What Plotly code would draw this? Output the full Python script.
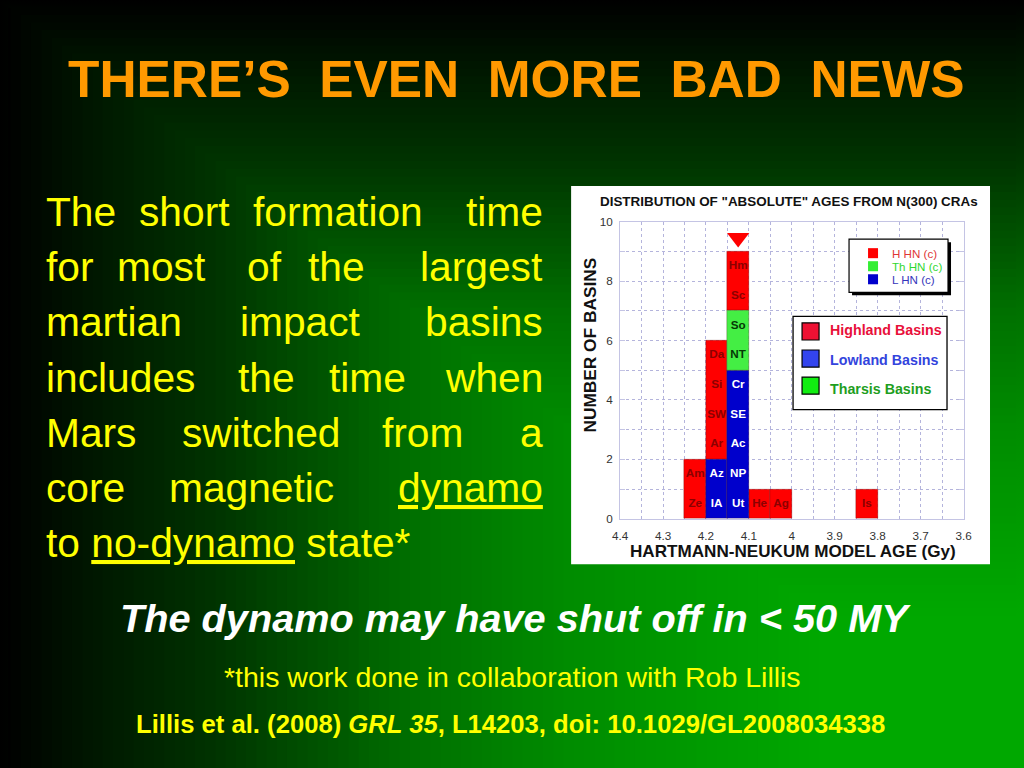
import numpy as np
import plotly.graph_objects as go

W, H = 1024, 768
# Empirical mapping of the photographed page: visible = (figure_px + 16) * scale
SX, SY = 1040 / 1024, 784 / 768
K = 1.018  # font size compensation for the slight downscale


def X(px):
    return (px * SX - 16) / W


def Y(py):
    return 1 - (py * SY - 16) / H


def F(s):
    return s * K


# ---------------- chart data ----------------
age_ticks = [4.4, 4.3, 4.2, 4.1, 4.0, 3.9, 3.8, 3.7, 3.6]
age_tick_labels = ["4.4", "4.3", "4.2", "4.1", "4", "3.9", "3.8", "3.7", "3.6"]
count_ticks = [0, 2, 4, 6, 8, 10]
count_tick_labels = ["0", "2", "4", "6", "8", "10"]

group_names = ["Highland Basins", "Lowland Basins", "Tharsis Basins"]
bar_colors = ["#FF0000", "#0000CC", "#44EE44"]
label_colors = ["#8B0000", "#FFFFFF", "#063806"]
legend_square_colors = ["#EE1133", "#3344EE", "#11EE11"]
legend_text_colors = ["#E8103A", "#3344DD", "#1E9E1E"]

bin_width = 0.05

highland_age = [4.225, 4.175, 4.125, 4.075, 4.025, 3.825]
highland_base = [0, 2, 7, 0, 0, 0]
highland_count = [2, 4, 2, 1, 1, 1]
highland_labels = [["Ze", "Am"], ["Ar", "SW", "Si", "Da"], ["Sc", "Hm"], ["He"], ["Ag"], ["Is"]]

lowland_age = [4.175, 4.125]
lowland_base = [0, 0]
lowland_count = [2, 5]
lowland_labels = [["IA", "Az"], ["Ut", "NP", "Ac", "SE", "Cr"]]

tharsis_age = [4.125]
tharsis_base = [5]
tharsis_count = [2]
tharsis_labels = [["NT", "So"]]

dynamo_off_age = [4.125]
dynamo_marker_y = [9.45]

hn_names = ["H HN (c)", "Th HN (c)", "L HN (c)"]
hn_colors = ["#FF0000", "#33EE33", "#0000CC"]
hn_text_colors = ["#E03535", "#2FD82F", "#3535BB"]

groups = [
    (highland_age, highland_base, highland_count, highland_labels),
    (lowland_age, lowland_base, lowland_count, lowland_labels),
    (tharsis_age, tharsis_base, tharsis_count, tharsis_labels),
]

FONT = "Liberation Sans, Arial, Helvetica, sans-serif"

fig = go.Figure()

for gi, (ages, bases, counts, labels) in enumerate(groups):
    fig.add_trace(go.Bar(
        x=ages, y=counts, base=bases, width=[bin_width] * len(ages),
        name=group_names[gi],
        marker=dict(color=bar_colors[gi], line=dict(color="rgba(60,0,0,0.45)", width=0.6)),
        showlegend=False, hoverinfo="skip",
    ))
    lx, ly, lt = [], [], []
    for a, b, labs in zip(ages, bases, labels):
        for i, s in enumerate(labs):
            lx.append(a)
            ly.append(b + i + 0.5)
            lt.append("<b>" + s + "</b>")
    fig.add_trace(go.Scatter(
        x=lx, y=ly, text=lt, mode="text",
        textfont=dict(family=FONT, size=F(11.5), color=label_colors[gi]),
        showlegend=False, hoverinfo="skip",
    ))

fig.add_trace(go.Scatter(
    x=dynamo_off_age, y=dynamo_marker_y, mode="markers",
    marker=dict(symbol="triangle-down", size=F(19), color="#FF0000", line=dict(width=0)),
    showlegend=False, hoverinfo="skip",
))

# ---------------- background (rectangular gradient from bottom-right corner) ----------------
shapes = []
ts = np.linspace(1.0, 0.2, 81)
stop_t = [0.0, 0.2, 0.45, 0.6, 0.8, 0.92, 1.0]
stop_g = [168, 168, 140, 112, 50, 22, 0]
for t in ts:
    g = int(round(np.interp(t, stop_t, stop_g)))
    shapes.append(dict(type="rect", xref="paper", yref="paper",
                       x0=X(W * (1 - t)), x1=1.05, y0=-0.05, y1=Y(H * (1 - t)),
                       fillcolor=f"rgb(0,{g},0)", line=dict(width=0), layer="below"))

css_stops = ", ".join(
    f"rgb(0,{int(round(g))},0) {100 * (1 - t):.1f}%" for t, g in sorted(zip(stop_t, stop_g), key=lambda p: -p[0])
)
page_bg = f"linear-gradient(to right, {css_stops}), linear-gradient(to bottom, {css_stops})"


def prect(x0, y0, x1, y1, fill, line=None, layer="above"):
    shapes.append(dict(type="rect", xref="paper", yref="paper",
                       x0=X(x0), x1=X(x1), y0=Y(y1), y1=Y(y0),
                       fillcolor=fill, line=line or dict(width=0), layer=layer))


# white chart panel
prect(571, 186, 990, 563, "white", layer="below")

# small legend (with shadow)
prect(852, 242, 951, 295, "black")
prect(849, 239, 948, 292, "white", dict(color="black", width=1.2))
hn_rows = [253, 266, 279]
for c, yy in zip(hn_colors, hn_rows):
    prect(868, yy - 5, 878, yy + 5, c)

# big legend
prect(793, 316, 947, 409, "white", dict(color="black", width=1.3))
big_rows = [331, 358, 385]
for c, yy in zip(legend_square_colors, big_rows):
    prect(802, yy - 8.5, 819, yy + 8.5, c, dict(color="black", width=1.2))

# ---------------- annotations ----------------
ann = []


def text(s, px, py, size, color, xanchor="center", angle=0):
    ann.append(dict(text=s, x=X(px), y=Y(py), xref="paper", yref="paper",
                    xanchor=xanchor, yanchor="middle", showarrow=False,
                    textangle=angle, borderpad=0, borderwidth=0,
                    font=dict(family=FONT, size=F(size), color=color)))


# slide title
text("<b>THERE’S\u00a0\u00a0EVEN\u00a0\u00a0MORE\u00a0\u00a0BAD\u00a0\u00a0NEWS</b>", 516, 79, 50.5, "#FF9900")

# justified paragraph (word by word)
para = [
    [("The", 46, "left"), ("short", 139, "left"), ("formation", 253, "left"), ("time", 543, "right")],
    [("for", 46, "left"), ("most", 117, "left"), ("of", 247, "left"), ("the", 308, "left"), ("largest", 543, "right")],
    [("martian", 46, "left"), ("impact", 240, "left"), ("basins", 543, "right")],
    [("includes", 46, "left"), ("the", 238, "left"), ("time", 329, "left"), ("when", 543, "right")],
    [("Mars", 46, "left"), ("switched", 182, "left"), ("from", 382, "left"), ("a", 543, "right")],
    [("core", 46, "left"), ("magnetic", 169, "left"), ("<u>dynamo</u>", 543, "right")],
    [("to <u>no-dynamo</u> state*", 46, "left")],
]
for li, words in enumerate(para):
    cy = 212 + 55 * li
    for w, px, anc in words:
        text(w, px, cy, 40, "#FFFF00", xanchor=anc)

# chart texts
text("<b>DISTRIBUTION OF \"ABSOLUTE\" AGES FROM N(300) CRAs</b>", 789, 202, 13.2, "#111111")
text("<b>NUMBER OF BASINS</b>", 590, 345, 17, "#111111", angle=-90)
text("<b>HARTMANN-NEUKUM MODEL AGE (Gy)</b>", 793, 550, 16.8, "#111111")

for name, col, yy in zip(hn_names, hn_text_colors, hn_rows):
    text(name, 892, yy, 11.4, col, xanchor="left")
for name, col, yy in zip(group_names, legend_text_colors, [330, 359, 388]):
    text("<b>" + name + "</b>", 830, yy, 14, col, xanchor="left")

# bottom texts
text("<b><i>The dynamo may have shut off in &lt; 50 MY</i></b>", 515, 617, 39, "#FFFFFF")
text("*this work done in collaboration with Rob Lillis", 512, 675, 28, "#FFFF00")
text("<b>Lillis et al. (2008) <i>GRL 35</i>, L14203, doi: 10.1029/GL2008034338</b>", 510, 722, 25.2, "#FFFF00")

GRID = "#B4B4DC"
AXLINE = "#C4C4E4"

fig.update_layout(
    width=W, height=H,
    margin=dict(l=0, r=0, t=0, b=0),
    paper_bgcolor="black",
    plot_bgcolor="rgba(0,0,0,0)",
    barmode="overlay",
    bargap=0,
    shapes=shapes,
    annotations=ann,
    showlegend=False,
    xaxis=dict(
        domain=[X(620), X(963.5)], range=[4.4, 3.6],
        tickmode="array", tickvals=age_ticks, ticktext=age_tick_labels,
        showgrid=True, gridcolor=GRID, griddash="dot", gridwidth=1,
        minor=dict(tickmode="linear", tick0=3.6, dtick=0.05, showgrid=True,
                   gridcolor=GRID, griddash="dot", gridwidth=1),
        showline=True, linecolor=AXLINE, linewidth=1, mirror=True,
        ticks="", zeroline=False, fixedrange=True,
        tickfont=dict(family=FONT, size=F(11.5), color="#333333"),
        ticklabelstandoff=6,
    ),
    yaxis=dict(
        domain=[Y(517.7), Y(221.5)], range=[0, 10],
        tickmode="array", tickvals=count_ticks, ticktext=count_tick_labels,
        showgrid=True, gridcolor=GRID, griddash="dot", gridwidth=1,
        minor=dict(tickmode="linear", tick0=0, dtick=1, showgrid=True,
                   gridcolor=GRID, griddash="dot", gridwidth=1,
                   ticks="inside", ticklen=5, tickcolor=AXLINE),
        showline=True, linecolor=AXLINE, linewidth=1, mirror="ticks",
        ticks="inside", ticklen=5, tickcolor=AXLINE,
        zeroline=False, fixedrange=True,
        tickfont=dict(family=FONT, size=F(11.5), color="#333333"),
        ticklabelstandoff=4,
    ),
)

post = (
    "var h=document.documentElement;"
    "h.style.minHeight='100%';"
    f"h.style.backgroundImage='{page_bg}';"
    "h.style.backgroundBlendMode='darken';"
    "h.style.backgroundSize='100% 100%';"
    "h.style.backgroundRepeat='no-repeat';"
    "h.style.backgroundAttachment='fixed';"
    "document.body.style.background='transparent';"
)

fig.write_html("out.html", config={"displayModeBar": False}, post_script=post)
